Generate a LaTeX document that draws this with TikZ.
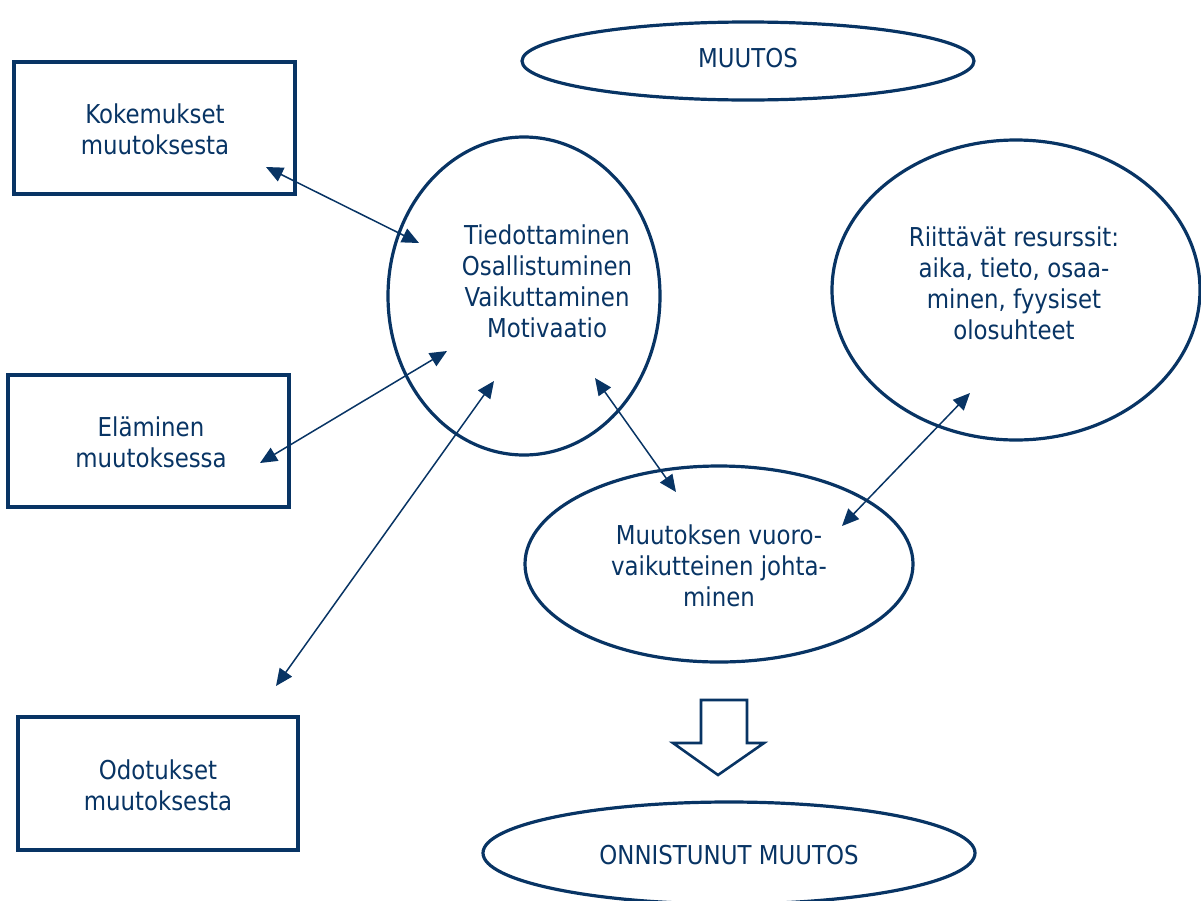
\documentclass[tikz,border=0pt]{standalone}
\usepackage{fontspec}
\setmainfont{DejaVu Sans}[FakeStretch=0.88]
\usetikzlibrary{arrows.meta,shapes.geometric}
\definecolor{navy}{RGB}{8,52,100}
\tikzset{
  shape line/.style={draw=navy, line width=3.2pt},
  oval/.style={shape line, ellipse, inner sep=0pt},
  boxnode/.style={shape line, rectangle, inner sep=0pt},
  lbl/.style={text=navy, align=center, font=\fontsize{26}{31}\selectfont, inner sep=0pt},
  link/.style={draw=navy, line width=1.5pt, {Triangle[length=17pt,width=15pt]}-{Triangle[length=17pt,width=15pt]}},
  bigarrow/.style={draw=navy, line width=2.6pt, fill=white, line join=miter}
}
\begin{document}
\begin{tikzpicture}[x=1pt,y=-1pt]
\useasboundingbox (0,0) rectangle (1201,900);
% ovals
\node[oval, minimum width=452pt, minimum height=78pt] (muutos) at (748,61) {};
\node[lbl] (muutosT) at (748,58) {MUUTOS};
\node[oval, minimum width=272pt, minimum height=318pt] (center) at (524,296) {};
\node[lbl] (centerT) at (547,281) {Tiedottaminen\\Osallistuminen\\Vaikuttaminen\\Motivaatio};
\node[oval, minimum width=368pt, minimum height=300pt] (res) at (1016,290) {};
\node[lbl] (resT) at (1014,283) {Riittävät resurssit:\\aika, tieto, osaa-\\minen, fyysiset\\olosuhteet};
\node[oval, minimum width=388pt, minimum height=196pt] (lead) at (719,564) {};
\node[lbl] (leadT) at (719,566) {Muutoksen vuoro-\\vaikutteinen johta-\\minen};
\node[oval, minimum width=492pt, minimum height=102pt] (success) at (729,853) {};
\node[lbl] (successT) at (729,855) {ONNISTUNUT MUUTOS};
% boxes
\node[boxnode, minimum width=281pt, minimum height=132pt] (koke) at (154.5,128) {};
\node[lbl] (kokeT) at (155,129) {Kokemukset\\muutoksesta};
\node[boxnode, minimum width=281pt, minimum height=132pt] (elam) at (148.5,441) {};
\node[lbl] (elamT) at (151,442) {Eläminen\\muutoksessa};
\node[boxnode, minimum width=280pt, minimum height=133pt] (odot) at (158,783.5) {};
\node[lbl] (odotT) at (158,785) {Odotukset\\muutoksesta};
% connector ends
\coordinate (k1) at (266,167);
\coordinate (k2) at (419,243);
\coordinate (e1) at (260,463);
\coordinate (e2) at (447,351);
\coordinate (o1) at (276,686);
\coordinate (o2) at (494,381);
\coordinate (l1) at (595,378);
\coordinate (l2) at (676,492);
\coordinate (r1) at (970,393);
\coordinate (r2) at (842,526);
\draw[link] (k1) -- (k2);
\draw[link] (e1) -- (e2);
\draw[link] (o1) -- (o2);
\draw[link] (l1) -- (l2);
\draw[link] (r2) -- (r1);
% block arrow
\draw[bigarrow] (701,700) -- (747,700) -- (747,743) -- (764,743) -- (718,775) -- (673,743) -- (701,743) -- cycle;
\end{tikzpicture}
\end{document}
